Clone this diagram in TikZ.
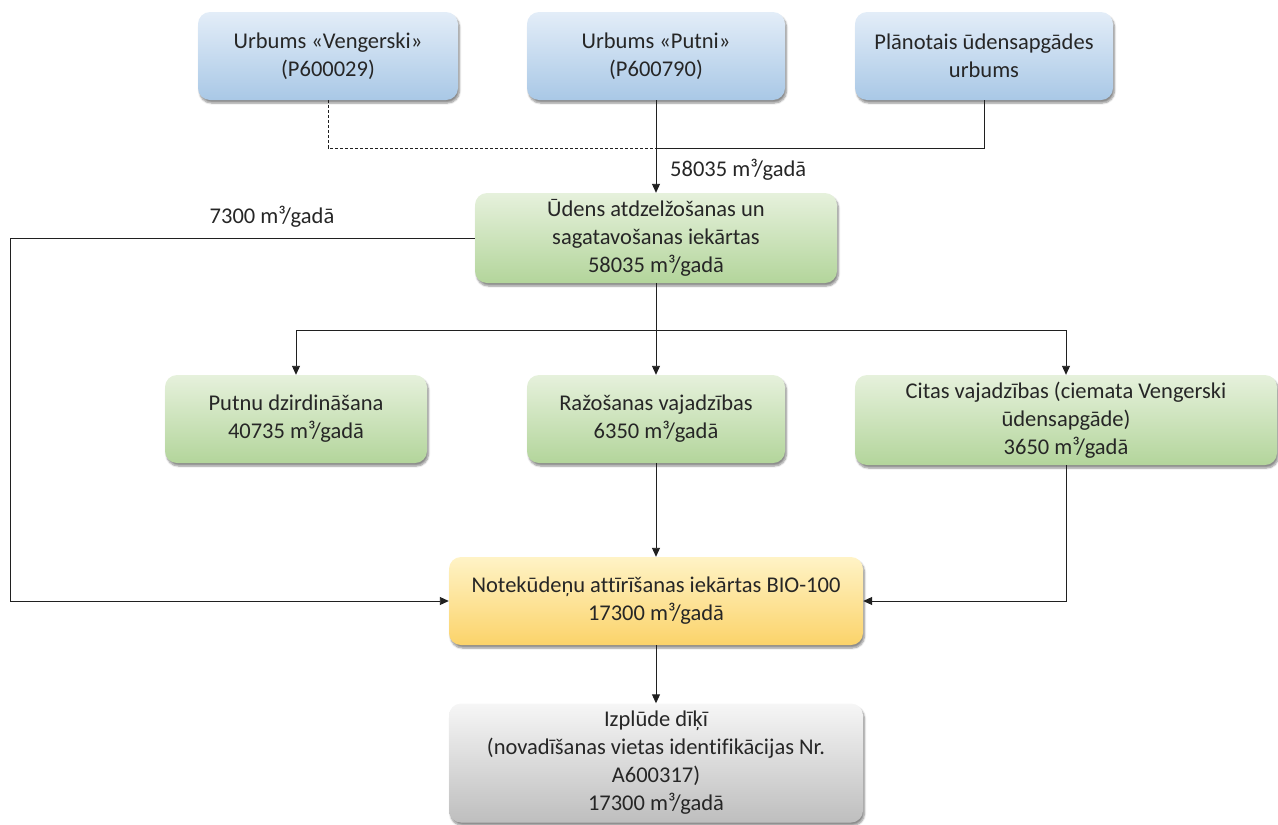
\documentclass[tikz,border=0pt]{standalone}
\usepackage{fontspec}
\setmainfont{Carlito}[Ligatures=NoCommon]
\usetikzlibrary{arrows.meta,shadows.blur}
\definecolor{bluetop}{HTML}{E3EDF8}
\definecolor{bluebot}{HTML}{A9C8E6}
\definecolor{greentop}{HTML}{E6F1DC}
\definecolor{greenbot}{HTML}{B3D59B}
\definecolor{yellowtop}{HTML}{FFF3C6}
\definecolor{yellowbot}{HTML}{FBD36A}
\definecolor{greytop}{HTML}{F6F6F6}
\definecolor{greybot}{HTML}{BEBEBE}
\definecolor{txt}{HTML}{262626}
\definecolor{ln}{HTML}{202020}
\tikzset{
  box/.style={rounded corners=12pt, align=center, text=txt,
    font=\fontsize{22.5}{28}\selectfont, minimum height=88pt, inner sep=2pt,
    blur shadow={shadow xshift=1.5pt, shadow yshift=-3pt, shadow blur steps=6, shadow opacity=45}},
  bluebox/.style={box, top color=bluetop, bottom color=bluebot},
  greenbox/.style={box, top color=greentop, bottom color=greenbot},
  yellowbox/.style={box, top color=yellowtop, bottom color=yellowbot},
  greybox/.style={box, top color=greytop, bottom color=greybot},
  conn/.style={draw=ln, line width=0.9pt},
  arr/.style={conn, -{Triangle[length=9pt,width=8pt]}},
  dconn/.style={conn, dash pattern=on 3pt off 2pt},
  lbl/.style={text=txt, font=\fontsize{22.5}{28}\selectfont, inner sep=0pt}
}
\begin{document}
\begin{tikzpicture}[x=1pt,y=-1pt]
\useasboundingbox (0,0) rectangle (1278,825);
\node[bluebox, minimum width=260pt] (B1) at (328,56) {Urbums «Vengerski»\\(P600029)};
\node[bluebox, minimum width=258pt] (B2) at (656,56) {Urbums «Putni»\\(P600790)};
\node[bluebox, minimum width=258pt] (B3) at (984,56) {Plānotais ūdensapgādes\\urbums};
\node[greenbox, minimum width=362pt, minimum height=90pt] (T) at (656,238) {Ūdens atdzelžošanas un\\sagatavošanas iekārtas\\58035 m³/gadā};
\node[greenbox, minimum width=262pt] (P) at (296,419) {Putnu dzirdināšana\\40735 m³/gadā};
\node[greenbox, minimum width=258pt] (R) at (656,419) {Ražošanas vajadzības\\6350 m³/gadā};
\node[greenbox, minimum width=422pt, minimum height=90pt] (C) at (1066,420) {Citas vajadzības (ciemata Vengerski\\ūdensapgāde)\\3650 m³/gadā};
\node[yellowbox, minimum width=414pt] (BIO) at (656,601) {Notekūdeņu attīrīšanas iekārtas BIO-100\\17300 m³/gadā};
\node[greybox, minimum width=414pt, minimum height=119pt] (IZ) at (656,763) {Izplūde dīķī\\(novadīšanas vietas identifikācijas Nr.\\A600317)\\17300 m³/gadā};

\coordinate (J) at (656,148);
\coordinate (L) at (10,238);
\coordinate (D) at (656,330);

\draw[dconn] (B1.south) |- (J);
\draw[dconn] (J) -- (T.north);
\draw[arr] (B2.south) -- (T.north);
\draw[conn] (B3.south) |- (J);
\node[lbl, anchor=west] (lab1) at (670,170) {58035 m³/gadā};

\draw[arr] (T.west) -- (L) |- (BIO.west);
\node[lbl] (lab2) at (272,217) {7300 m³/gadā};

\draw[conn] (T.south) -- (D);
\draw[arr] (D) -| (P.north);
\draw[arr] (D) -| (C.north);
\draw[arr] (D) -- (R.north);

\draw[arr] (R.south) -- (BIO.north);
\draw[arr] (C.south) |- (BIO.east);
\draw[arr] (BIO.south) -- (IZ.north);
\end{tikzpicture}
\end{document}
